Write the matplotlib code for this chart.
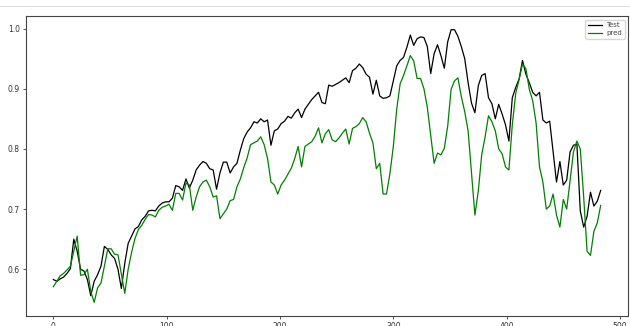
import matplotlib
matplotlib.use('Agg')
import matplotlib.pyplot as plt
import numpy as np
from matplotlib.lines import Line2D

# values, one every 3 steps
test = [0.583, 0.580, 0.584, 0.587, 0.593, 0.601, 0.650, 0.630, 0.600, 0.597,
        0.583, 0.556, 0.580, 0.591, 0.605, 0.638, 0.633, 0.624, 0.618, 0.600,
        0.568, 0.610, 0.643, 0.655, 0.667, 0.671, 0.682, 0.688, 0.697, 0.698,
        0.697, 0.705, 0.710, 0.712, 0.712, 0.718, 0.739, 0.737, 0.731, 0.750,
        0.735, 0.748, 0.765, 0.773, 0.779, 0.776, 0.767, 0.765, 0.733, 0.760,
        0.778, 0.778, 0.760, 0.770, 0.776, 0.798, 0.817, 0.828, 0.835, 0.845,
        0.843, 0.850, 0.845, 0.848, 0.806, 0.830, 0.833, 0.842, 0.846, 0.854,
        0.851, 0.860, 0.866, 0.852, 0.866, 0.874, 0.882, 0.888, 0.894, 0.877,
        0.875, 0.906, 0.904, 0.907, 0.910, 0.914, 0.918, 0.910, 0.930, 0.934,
        0.941, 0.935, 0.924, 0.919, 0.891, 0.914, 0.888, 0.884, 0.885, 0.888,
        0.913, 0.938, 0.947, 0.952, 0.969, 0.989, 0.972, 0.983, 0.986, 0.985,
        0.970, 0.925, 0.958, 0.973, 0.955, 0.934, 0.978, 0.998, 0.998, 0.987,
        0.970, 0.950, 0.910, 0.876, 0.860, 0.905, 0.922, 0.925, 0.885, 0.875,
        0.850, 0.874, 0.858, 0.840, 0.813, 0.885, 0.902, 0.916, 0.947, 0.924,
        0.910, 0.894, 0.888, 0.894, 0.848, 0.843, 0.846, 0.795, 0.745, 0.779,
        0.740, 0.748, 0.795, 0.806, 0.808, 0.697, 0.670, 0.688, 0.728, 0.705,
        0.713, 0.731]

pred = [0.571, 0.580, 0.589, 0.593, 0.599, 0.605, 0.630, 0.655, 0.590, 0.591,
        0.600, 0.563, 0.545, 0.569, 0.577, 0.605, 0.634, 0.634, 0.625, 0.624,
        0.592, 0.560, 0.600, 0.628, 0.651, 0.666, 0.673, 0.683, 0.691, 0.690,
        0.687, 0.698, 0.703, 0.705, 0.708, 0.698, 0.726, 0.726, 0.715, 0.743,
        0.740, 0.698, 0.720, 0.737, 0.745, 0.748, 0.737, 0.720, 0.722, 0.684,
        0.692, 0.700, 0.714, 0.716, 0.737, 0.750, 0.769, 0.785, 0.807, 0.810,
        0.813, 0.820, 0.807, 0.784, 0.745, 0.740, 0.725, 0.740, 0.748, 0.758,
        0.768, 0.784, 0.804, 0.770, 0.804, 0.808, 0.812, 0.821, 0.835, 0.810,
        0.825, 0.832, 0.815, 0.812, 0.818, 0.826, 0.833, 0.808, 0.834, 0.837,
        0.842, 0.852, 0.845, 0.826, 0.810, 0.767, 0.776, 0.725, 0.725, 0.759,
        0.804, 0.866, 0.908, 0.922, 0.938, 0.955, 0.946, 0.917, 0.917, 0.900,
        0.869, 0.822, 0.776, 0.793, 0.790, 0.801, 0.838, 0.899, 0.913, 0.918,
        0.887, 0.862, 0.830, 0.760, 0.690, 0.730, 0.790, 0.820, 0.855, 0.845,
        0.830, 0.800, 0.792, 0.770, 0.765, 0.840, 0.892, 0.915, 0.941, 0.933,
        0.899, 0.880, 0.843, 0.770, 0.745, 0.700, 0.705, 0.725, 0.690, 0.670,
        0.716, 0.700, 0.748, 0.795, 0.813, 0.800, 0.720, 0.630, 0.623, 0.663,
        0.677, 0.706]

step = 3
days_test = np.arange(len(test)) * step
days_pred = np.arange(len(pred)) * step

fig = plt.figure(figsize=(6.3, 3.26), dpi=100)
ax = fig.add_axes([0.0413, 0.0307, 0.9556, 0.920])

ax.plot(days_test, test, color='black', linewidth=0.9, label='Test')
ax.plot(days_pred, pred, color='green', linewidth=0.9, label='pred')

ax.set_xticks([0, 100, 200, 300, 400, 500])
ax.set_yticks([0.6, 0.7, 0.8, 0.9, 1.0])
ax.tick_params(labelsize=5.5, length=2.5, width=0.6, pad=2, colors='#333333')
for s in ax.spines.values():
    s.set_linewidth(0.8)
    s.set_color('#444444')

leg = ax.legend(loc='upper right', fontsize=5, handlelength=2.0, borderpad=0.4,
                labelspacing=0.25, handletextpad=0.6)
for t in leg.get_texts():
    t.set_color('#444444')

# thin grey line at the top of the screenshot
fig.add_artist(Line2D([0, 1], [1 - 6 / 326, 1 - 6 / 326], color='#dddddd',
                      linewidth=0.8, transform=fig.transFigure))

fig.savefig('out.png', dpi=100)
